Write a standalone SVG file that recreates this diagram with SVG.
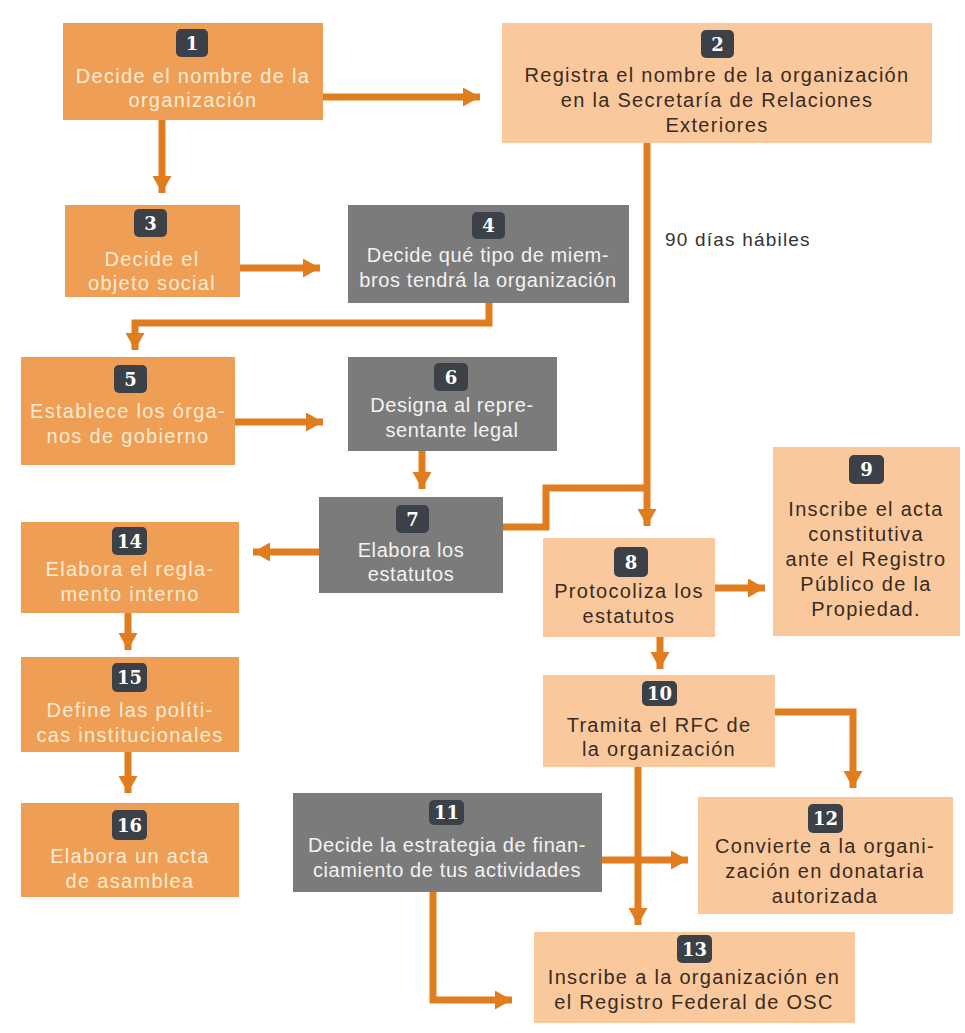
<svg xmlns="http://www.w3.org/2000/svg" width="965" height="1033" viewBox="0 0 965 1033">
<style>
.or{fill:#EF9E55}
.lt{fill:#F9C99D}
.gr{fill:#7B7B7B}
.bd{fill:#3C4047}
.bn{font-family:"DejaVu Serif",serif;font-weight:bold;font-size:18px;fill:#FFFFFF;text-anchor:middle}
.t{font-family:"Liberation Sans",Arial,sans-serif;font-size:20px;letter-spacing:1.3px;text-anchor:middle}
.tg{font-family:"Liberation Sans",Arial,sans-serif;font-size:20px;letter-spacing:0.6px;text-anchor:middle;fill:#F2F2F2}
.to{fill:#FCEBD2}
.tl{fill:#3B2A1E}
.c{fill:none;stroke:#E07D1E;stroke-width:7}
.lab{font-family:"Liberation Sans",Arial,sans-serif;font-size:19px;letter-spacing:1.2px;fill:#333333}
</style>
<defs>
<marker id="ah" markerUnits="userSpaceOnUse" markerWidth="18" markerHeight="20" refX="17" refY="9.5" orient="auto">
<path d="M0,0 L17,9.5 L0,19 z" fill="#E07D1E"/>
</marker>
</defs>
<rect width="965" height="1033" fill="#FFFFFF"/>
<g id="connectors">
<path class="c" d="M323 97 H480" marker-end="url(#ah)"/>
<path class="c" d="M162 120 V193" marker-end="url(#ah)"/>
<path class="c" d="M240 268 H320" marker-end="url(#ah)"/>
<path class="c" d="M489 303 V323 H135 V350" marker-end="url(#ah)"/>
<path class="c" d="M647 143 V526" marker-end="url(#ah)"/>
<path class="c" d="M503 527 H546 V488 H647"/>
<path class="c" d="M235 422 H323" marker-end="url(#ah)"/>
<path class="c" d="M422 451 V489" marker-end="url(#ah)"/>
<path class="c" d="M319 552 H253" marker-end="url(#ah)"/>
<path class="c" d="M715 588 H765" marker-end="url(#ah)"/>
<path class="c" d="M660 637 V669" marker-end="url(#ah)"/>
<path class="c" d="M775 712 H853 V788" marker-end="url(#ah)"/>
<path class="c" d="M638 767 V925" marker-end="url(#ah)"/>
<path class="c" d="M602 860 H688" marker-end="url(#ah)"/>
<path class="c" d="M433 892 V1000 H512" marker-end="url(#ah)"/>
<path class="c" d="M128 613 V650" marker-end="url(#ah)"/>
<path class="c" d="M128 752 V793" marker-end="url(#ah)"/>
</g>
<text class="lab" x="665" y="246">90 días hábiles</text>
<g id="n1">
<rect class="or" x="63" y="23" width="260" height="97"/>
<rect class="bd" x="176" y="29" width="32" height="28" rx="5"/>
<text class="bn" x="192" y="50">1</text>
<text class="t to" x="193" y="83">Decide el nombre de la</text>
<text class="t to" x="193" y="107">organización</text>
</g>
<g id="n2">
<rect class="lt" x="502" y="23" width="430" height="120"/>
<rect class="bd" x="701" y="30" width="33" height="28" rx="5"/>
<text class="bn" x="717.5" y="51">2</text>
<text class="t tl" x="717" y="82">Registra el nombre de la organización</text>
<text class="t tl" x="717" y="107">en la Secretaría de Relaciones</text>
<text class="t tl" x="717" y="132">Exteriores</text>
</g>
<g id="n3">
<rect class="or" x="65" y="205" width="175" height="92"/>
<rect class="bd" x="134" y="209" width="33" height="28" rx="5"/>
<text class="bn" x="150.5" y="230">3</text>
<text class="t to" x="152" y="266">Decide el</text>
<text class="t to" x="152" y="290">objeto social</text>
</g>
<g id="n4">
<rect class="gr" x="348" y="205" width="281" height="98"/>
<rect class="bd" x="472" y="212" width="33" height="27" rx="5"/>
<text class="bn" x="488.5" y="232">4</text>
<text class="tg" x="488" y="262">Decide qué tipo de miem-</text>
<text class="tg" x="488" y="287">bros tendrá la organización</text>
</g>
<g id="n5">
<rect class="or" x="21" y="357" width="214" height="108"/>
<rect class="bd" x="114" y="365" width="33" height="28" rx="5"/>
<text class="bn" x="130.5" y="386">5</text>
<text class="t to" x="128" y="418">Establece los órga-</text>
<text class="t to" x="128" y="443">nos de gobierno</text>
</g>
<g id="n6">
<rect class="gr" x="348" y="357" width="209" height="94"/>
<rect class="bd" x="434" y="363" width="34" height="28" rx="5"/>
<text class="bn" x="451" y="384">6</text>
<text class="tg" x="452" y="412">Designa al repre-</text>
<text class="tg" x="452" y="437">sentante legal</text>
</g>
<g id="n7">
<rect class="gr" x="319" y="497" width="184" height="96"/>
<rect class="bd" x="396" y="505" width="33" height="28" rx="5"/>
<text class="bn" x="412.5" y="526">7</text>
<text class="tg" x="411" y="557">Elabora los</text>
<text class="tg" x="411" y="581">estatutos</text>
</g>
<g id="n8">
<rect class="lt" x="543" y="538" width="172" height="99"/>
<rect class="bd" x="614" y="547" width="34" height="30" rx="5"/>
<text class="bn" x="631" y="569">8</text>
<text class="t tl" x="629" y="598">Protocoliza los</text>
<text class="t tl" x="629" y="623">estatutos</text>
</g>
<g id="n9">
<rect class="lt" x="773" y="447" width="187" height="189"/>
<rect class="bd" x="849" y="455" width="35" height="29" rx="5"/>
<text class="bn" x="866.5" y="476">9</text>
<text class="t tl" x="866" y="516">Inscribe el acta</text>
<text class="t tl" x="866" y="541">constitutiva</text>
<text class="t tl" x="866" y="566">ante el Registro</text>
<text class="t tl" x="866" y="591">Público de la</text>
<text class="t tl" x="866" y="616">Propiedad.</text>
</g>
<g id="n10">
<rect class="lt" x="543" y="675" width="232" height="92"/>
<rect class="bd" x="642" y="681" width="35" height="25" rx="5"/>
<text class="bn" x="659.5" y="700">10</text>
<text class="t tl" x="659" y="732">Tramita el RFC de</text>
<text class="t tl" x="659" y="756">la organización</text>
</g>
<g id="n11">
<rect class="gr" x="293" y="793" width="309" height="99"/>
<rect class="bd" x="429" y="800" width="35" height="25" rx="5"/>
<text class="bn" x="446.5" y="819">11</text>
<text class="tg" x="447" y="852">Decide la estrategia de finan-</text>
<text class="tg" x="447" y="877">ciamiento de tus actividades</text>
</g>
<g id="n12">
<rect class="lt" x="698" y="797" width="255" height="117"/>
<rect class="bd" x="808" y="804" width="35" height="29" rx="5"/>
<text class="bn" x="825.5" y="825">12</text>
<text class="t tl" x="825" y="853">Convierte a la organi-</text>
<text class="t tl" x="825" y="878">zación en donataria</text>
<text class="t tl" x="825" y="903">autorizada</text>
</g>
<g id="n13">
<rect class="lt" x="534" y="932" width="321" height="91"/>
<rect class="bd" x="677" y="935" width="35" height="28" rx="5"/>
<text class="bn" x="694.5" y="956">13</text>
<text class="t tl" x="694" y="984">Inscribe a la organización en</text>
<text class="t tl" x="694" y="1009">el Registro Federal de OSC</text>
</g>
<g id="n14">
<rect class="or" x="21" y="522" width="218" height="91"/>
<rect class="bd" x="112" y="527" width="35" height="28" rx="5"/>
<text class="bn" x="129.5" y="548">14</text>
<text class="t to" x="130" y="576">Elabora el regla-</text>
<text class="t to" x="130" y="601">mento interno</text>
</g>
<g id="n15">
<rect class="or" x="21" y="657" width="218" height="95"/>
<rect class="bd" x="112" y="663" width="35" height="29" rx="5"/>
<text class="bn" x="129.5" y="684">15</text>
<text class="t to" x="130" y="717">Define las políti-</text>
<text class="t to" x="130" y="742">cas institucionales</text>
</g>
<g id="n16">
<rect class="or" x="21" y="803" width="218" height="94"/>
<rect class="bd" x="112" y="810" width="35" height="30" rx="5"/>
<text class="bn" x="129.5" y="832">16</text>
<text class="t to" x="130" y="863">Elabora un acta</text>
<text class="t to" x="130" y="888">de asamblea</text>
</g>
</svg>
